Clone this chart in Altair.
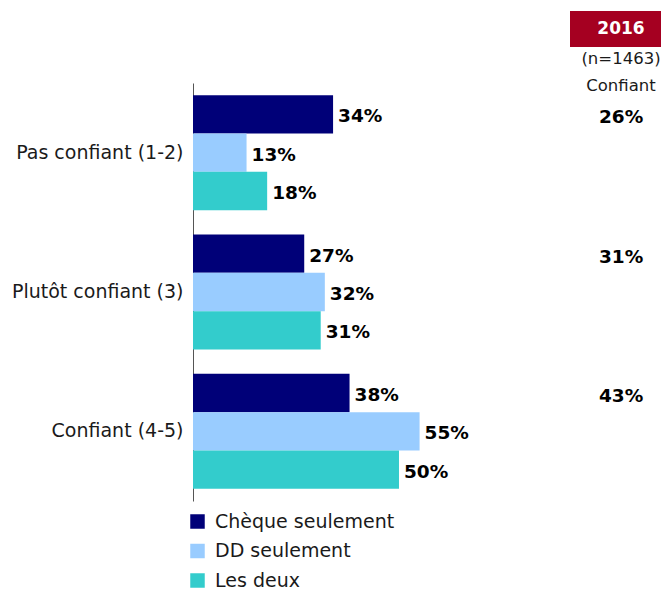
import altair as alt
import pandas as pd

categories = ["Pas confiant (1-2)", "Plutôt confiant (3)", "Confiant (4-5)"]
series = ["Chèque seulement", "DD seulement", "Les deux"]
cheque = [34, 27, 38]
dd = [13, 32, 55]
deux = [18, 31, 50]
values_2016 = [26, 31, 43]
colors = ["#000078", "#99CCFF", "#33CCCC"]

rows = []
for i, c in enumerate(categories):
    for s, vals in zip(series, [cheque, dd, deux]):
        rows.append({"cat": c, "serie": s, "val": vals[i], "label": f"{vals[i]}%"})
df = pd.DataFrame(rows)

df16 = pd.DataFrame({"cat": categories, "serie": [series[0]] * 3,
                     "val": values_2016, "label": [f"{v}%" for v in values_2016],
                     "pos": [103.9] * 3})

FONT = "DejaVu Sans"
xscale = alt.Scale(domain=[0, 113.6], nice=False, zero=True)
yscale = alt.Scale(domain=categories, paddingInner=0.175, paddingOuter=0.0875)
offscale = alt.Scale(domain=series, paddingInner=0, paddingOuter=0)

base = alt.Chart(df).encode(
    y=alt.Y("cat:N", sort=categories, scale=yscale,
            axis=alt.Axis(title=None, ticks=False, labelFontSize=19, labelFont=FONT,
                          labelColor="#1a1a1a", labelPadding=10, domainColor="#555555",
                          domainWidth=1, labelLimit=300)),
    yOffset=alt.YOffset("serie:N", sort=series, scale=offscale),
)

bars = base.mark_bar().encode(
    x=alt.X("val:Q", scale=xscale, axis=None),
    color=alt.Color("serie:N", sort=series, scale=alt.Scale(domain=series, range=colors),
                    legend=alt.Legend(title=None, orient="none", legendX=-5, legendY=429,
                                      symbolType="square", symbolSize=210, symbolStrokeWidth=0,
                                      labelFontSize=19, labelFont=FONT, labelColor="#1a1a1a",
                                      labelOffset=8, rowPadding=9.5, labelLimit=400)),
)

labels = base.mark_text(align="left", baseline="middle", dx=5, dy=2, fontSize=18.5,
                        fontWeight="bold", font=FONT, color="#000000").encode(
    x=alt.X("val:Q", scale=xscale), text="label:N")

right = alt.Chart(df16).mark_text(align="center", baseline="middle", dy=3, fontSize=18.5,
                                  fontWeight="bold", font=FONT, color="#000000").encode(
    x=alt.X("pos:Q", scale=xscale),
    y=alt.Y("cat:N", sort=categories, scale=yscale),
    yOffset=alt.YOffset("serie:N", sort=series, scale=offscale),
    text="label:N")

hdr = pd.DataFrame({"t": ["2016"]})
box = alt.Chart(hdr).mark_rect(color="#A50021").encode(
    x=alt.value(377), x2=alt.value(468), y=alt.value(-72), y2=alt.value(-36))
year = alt.Chart(hdr).mark_text(color="white", fontSize=17, fontWeight="bold", font=FONT).encode(
    x=alt.value(428), y=alt.value(-54), text="t:N")
sub = pd.DataFrame({"t": ["(n=1463)", "Confiant"], "yy": [-24, 2.5]})
subt = alt.Chart(sub).mark_text(color="#1a1a1a", fontSize=16.5, font=FONT).encode(
    x=alt.value(428), y=alt.Y("yy:Q", scale=None), text="t:N")

chart = alt.layer(bars, labels, right, box, year, subt).properties(
    width=468, height=418,
    padding={"left": 185, "top": 75, "right": 0, "bottom": 88},
    autosize=alt.AutoSizeParams(type="none"),
).configure_view(stroke=None)

chart.save("out.html", embed_options={"renderer": "svg", "actions": False})
